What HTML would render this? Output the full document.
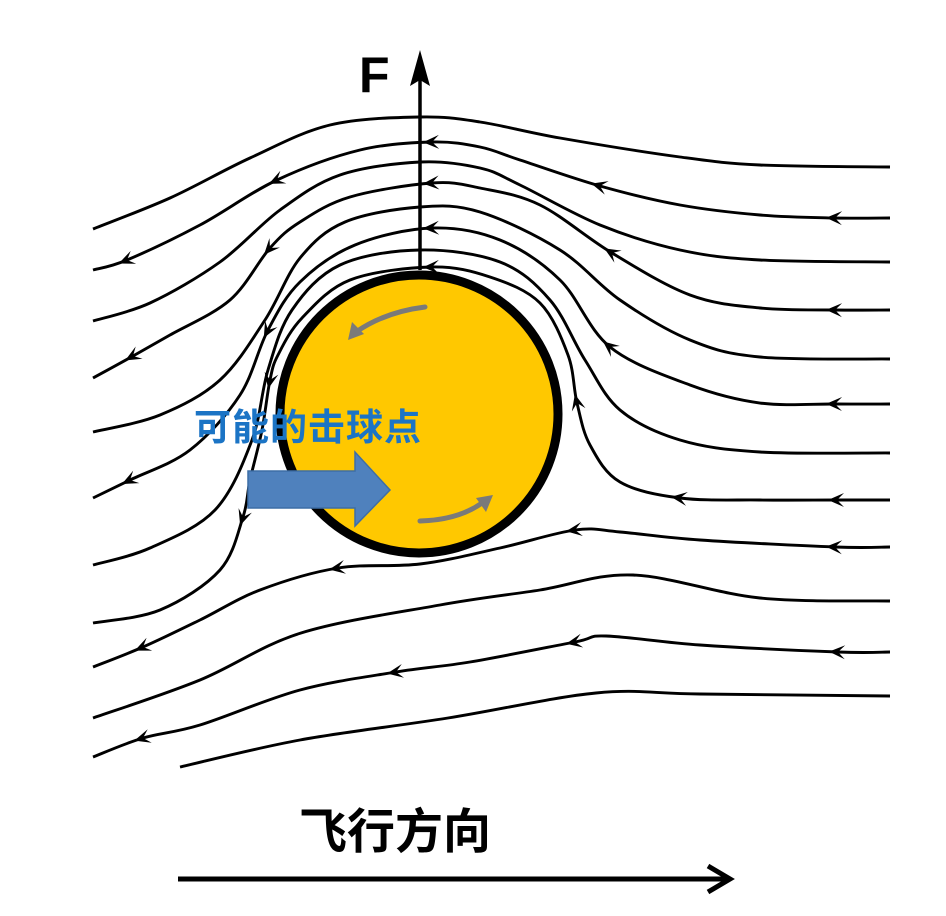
<!DOCTYPE html>
<html><head><meta charset="utf-8"><style>
html,body{margin:0;padding:0;background:#fff;width:946px;height:916px;overflow:hidden}
svg{display:block}
</style></head><body>
<svg id="s" width="946" height="916" viewBox="0 0 946 916" xmlns="http://www.w3.org/2000/svg">
<g id="lines" fill="none" stroke="#000" stroke-width="2.9"></g>
<g id="heads" fill="#000"></g>
<circle cx="419" cy="414" r="139" fill="#ffc800" stroke="#000" stroke-width="9"/>
<path d="M425 307 Q385 312 356 332" fill="none" stroke="#7a7a7a" stroke-width="5" stroke-linecap="round"/>
<polygon points="348,340 352,322 364,334" fill="#7a7a7a"/>
<path d="M420 521 Q458 520 482 503" fill="none" stroke="#7a7a7a" stroke-width="5" stroke-linecap="round"/>
<polygon points="493,495 486,512 476,498" fill="#7a7a7a"/>
<line x1="420" y1="270" x2="420" y2="80" stroke="#000" stroke-width="3.5"/>
<polygon points="420,50 410,86 420,80 430,86" fill="#000"/>
<text x="359" y="92" font-family="Liberation Sans, sans-serif" font-weight="bold" font-size="50">F</text>
<polygon points="248,471 355,471 355,452 390,490 355,526 355,508 248,508" fill="#4f81bd" stroke="#3d6ea6" stroke-width="1.5"/>
<text x="194" y="440" font-family="Liberation Sans, Noto Sans CJK SC, sans-serif" font-weight="bold" font-size="37" fill="#1b74c5" letter-spacing="1">可能的击球点</text>
<text x="299" y="848" font-family="Liberation Sans, Noto Sans CJK SC, sans-serif" font-weight="bold" font-size="48" fill="#000">飞行方向</text>
<line x1="178" y1="879" x2="728" y2="879" stroke="#000" stroke-width="5"/>
<polyline points="708,866 730,879 708,892" fill="none" stroke="#000" stroke-width="5"/>
</svg>
<script>
var L=[
[[890,167],[760,165],[680,157],[560,138],[480,122],[420,117],[330,125],[250,158],[170,198],[93,229]],
[[890,218],[835,218,1],[760,215],[680,205],[600,186,1],[520,160],[480,147],[432,142,1],[360,150],[277,180,1],[200,225],[127,260,1],[93,270]],
[[890,262],[760,260],[680,250],[600,225],[520,185],[480,168],[420,162],[340,175],[280,210],[220,262],[150,303],[93,321]],
[[890,310],[835,310,1],[760,308],[690,295],[612,253,1],[540,205],[480,188],[432,183,1],[350,197],[300,222],[270,248,1],[230,300],[170,335],[133,356,1],[93,378]],
[[890,359],[760,357],[690,340],[620,300],[560,250],[480,212],[420,207],[345,222],[300,258],[265,320],[220,380],[160,415],[93,432]],
[[890,404],[835,404,1],[760,403],[690,385],[610,347,1],[560,280],[500,240],[432,228,1],[355,245],[300,282],[268,330,1],[240,395],[190,450],[130,480,1],[93,498]],
[[890,453],[760,452],[680,440],[620,410],[585,360],[550,300],[500,262],[420,250],[340,265],[292,310],[268,370],[252,440],[215,510],[150,548],[93,565]],
[[890,500],[837,500,1],[760,500],[680,498,1],[620,482],[590,445],[577,403,1],[568,355],[540,303],[490,277],[432,267,1],[350,280],[302,318],[278,355],[270,380,1],[262,430],[250,480],[243,517,1],[220,570],[160,610],[93,623]],
[[890,547],[835,547,1],[700,540],[620,532],[575,530,1],[500,548],[420,564],[338,568,1],[260,590],[200,620],[143,647,1],[93,667]],
[[890,601],[760,598],[633,575],[540,590],[440,605],[301,633],[200,680],[93,718]],
[[890,652],[838,652,1],[700,645],[606,636],[575,642,1],[470,662],[396,672,1],[300,690],[200,725],[143,738,1],[93,757]],
[[890,696],[700,694],[596,693],[448,718],[300,740],[180,767]]
];
var NS="http://www.w3.org/2000/svg",g=document.getElementById('lines'),h=document.getElementById('heads');
L.forEach(function(p){
 var d="M"+p[0][0]+" "+p[0][1];
 for(var i=0;i<p.length-1;i++){
  var p0=p[i-1]||p[i],p1=p[i],p2=p[i+1],p3=p[i+2]||p2;
  var c1x=p1[0]+(p2[0]-p0[0])/6,c1y=p1[1]+(p2[1]-p0[1])/6,c2x=p2[0]-(p3[0]-p1[0])/6,c2y=p2[1]-(p3[1]-p1[1])/6;
  d+=" C"+c1x.toFixed(1)+" "+c1y.toFixed(1)+" "+c2x.toFixed(1)+" "+c2y.toFixed(1)+" "+p2[0]+" "+p2[1];
 }
 var e=document.createElementNS(NS,'path');e.setAttribute('d',d);g.appendChild(e);
 p.forEach(function(q,i){
  if(!q[2])return;
  var a=p[i-1]||q,b=p[i+1]||q,dx=b[0]-a[0],dy=b[1]-a[1],n=Math.hypot(dx,dy);dx/=n;dy/=n;
  var tx=q[0]+dx*9,ty=q[1]+dy*9,bx=q[0]-dx*7,by=q[1]-dy*7,nx=-dy*7,ny=dx*7;
  var t=document.createElementNS(NS,'polygon');
  t.setAttribute('points',tx+","+ty+" "+(bx+nx)+","+(by+ny)+" "+(q[0])+","+(q[1])+" "+(bx-nx)+","+(by-ny));
  h.appendChild(t);
 });
});
</script>
</body></html>
